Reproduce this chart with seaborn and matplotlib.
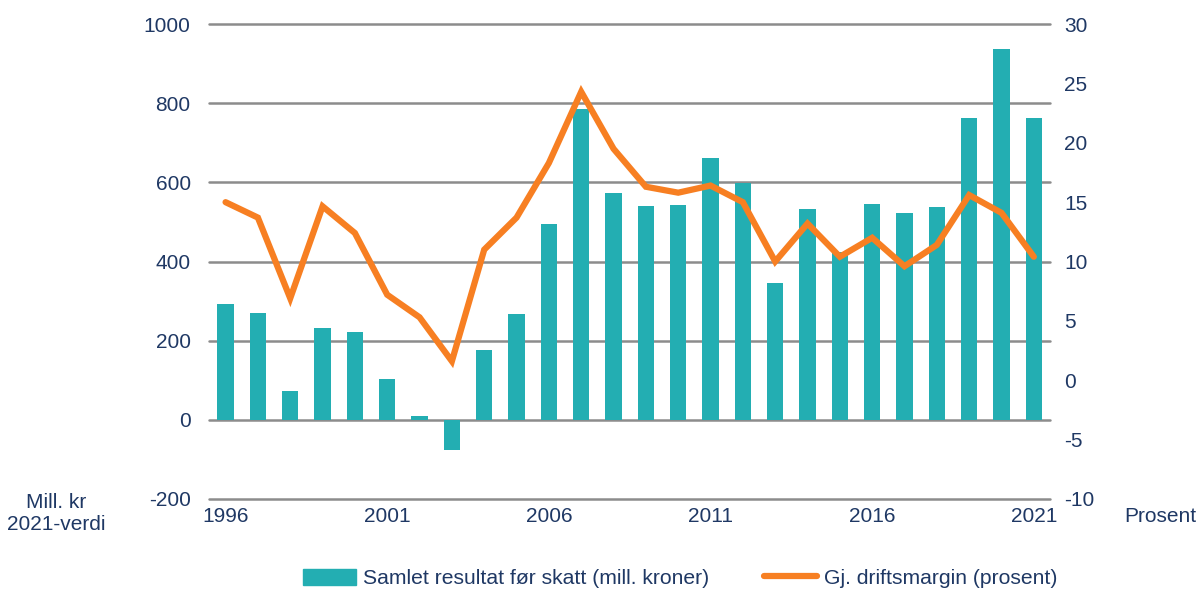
import numpy as np
import pandas as pd
import matplotlib.pyplot as plt
import seaborn as sns
from matplotlib.patches import Patch
from matplotlib.lines import Line2D

# Data
years = list(range(1996, 2022))
resultat = [293, 269, 72, 231, 221, 103, 9, -77, 176, 268,
            495, 785, 573, 540, 543, 662, 598, 346, 533, 424,
            545, 523, 538, 763, 936, 763]
margin = [15.0, 13.7, 6.9, 14.65, 12.4, 7.2, 5.3, 1.6, 11.0, 13.7,
          18.3, 24.3, 19.5, 16.3, 15.8, 16.4, 15.0, 10.0, 13.2, 10.4,
          12.0, 9.6, 11.4, 15.6, 14.1, 10.4]
tick_years = ['1996', '2001', '2006', '2011', '2016', '2021']

bar_color = '#23AEB2'
line_color = '#F77F22'
text_color = '#1F3864'
grid_color = '#8C8C8C'

def main():
    sns.set_style('white')
    plt.rcParams['font.family'] = ['Liberation Sans', 'DejaVu Sans']
    plt.rcParams['axes.unicode_minus'] = False

    df = pd.DataFrame({'year': [str(y) for y in years], 'resultat': resultat,
                       'margin': margin, 'pos': np.arange(len(years))})

    fig = plt.figure(figsize=(12, 5.89), dpi=100)
    ax = fig.add_axes([0.1745, 0.153, 0.7005, 0.806])

    sns.barplot(data=df, x='year', y='resultat', color=bar_color, width=0.5,
                saturation=1, linewidth=0, ax=ax)
    ax.set_axisbelow(True)
    ax.grid(axis='y', color=grid_color, lw=1.8)
    for gl in ax.get_ygridlines():
        gl.set_clip_on(False)
    ax.set_ylim(-200, 1000)
    ax.set_xlim(-0.5, len(years) - 0.5)
    ax.set_yticks(range(-200, 1001, 200))
    ax.set_xticks([years.index(int(t)) for t in tick_years])
    ax.set_xticklabels(tick_years)
    ax.set_xlabel('')
    ax.set_ylabel('')
    ax.tick_params(axis='y', colors=text_color, labelsize=15, length=0, pad=13.5)
    ax.tick_params(axis='x', colors=text_color, labelsize=15, length=0, pad=6)
    for s in ax.spines.values():
        s.set_visible(False)

    ax2 = ax.twinx()
    sns.lineplot(data=df, x='pos', y='margin', color=line_color, lw=4.5, ax=ax2,
                 solid_capstyle='round', solid_joinstyle='miter')
    ax2.set_ylim(-10, 30)
    ax2.set_yticks(range(-10, 31, 5))
    ax2.set_xlim(-0.5, len(years) - 0.5)
    ax2.set_ylabel('')
    ax2.set_xlabel('')
    ax2.tick_params(axis='y', colors=text_color, labelsize=15, length=0, pad=10)
    for s in ax2.spines.values():
        s.set_visible(False)

    fig.text(0.047, 0.128, 'Mill. kr\n2021-verdi', ha='center', va='center',
             color=text_color, fontsize=15, linespacing=1.2)
    fig.text(0.967, 0.123, 'Prosent', ha='center', va='center',
             color=text_color, fontsize=15)

    handles = [Patch(color=bar_color),
               Line2D([0], [0], color=line_color, lw=4.5)]
    labels = ['Samlet resultat før skatt (mill. kroner)',
              'Gj. driftsmargin (prosent)']
    leg = fig.legend(handles, labels, loc='center', bbox_to_anchor=(0.567, 0.018),
                     ncol=2, frameon=False, fontsize=15.2, handlelength=2.5,
                     handleheight=0.8, columnspacing=2.6, handletextpad=0.35)
    for t in leg.get_texts():
        t.set_color(text_color)

    fig.savefig('out.png', dpi=100)
    plt.close(fig)

if __name__ == '__main__':
    main()
